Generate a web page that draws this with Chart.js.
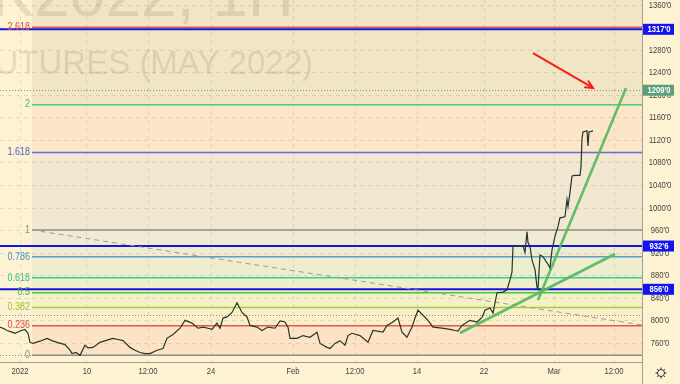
<!DOCTYPE html>
<html><head><meta charset="utf-8">
<script src="https://cdn.jsdelivr.net/npm/chart.js@4"></script>
<style>html,body{margin:0;padding:0;background:#fdf3d3}canvas{display:block}</style>
</head><body>
<canvas id="c" width="680" height="384"></canvas>
<script>
// ---- data (x = bar index on the time axis, y = price) ----
const barIndex = [0,4,7,12,15,20,25,28,30,33,40,47,52,57,65,70,72,76,80,85,88,93,100,107,113,118,123,130,135,140,145,150,157,163,167,173,180,185,192,198,203,208,212,217,220,223,227,232,237,242,247,250,257,262,268,275,280,285,288,290,297,303,310,317,320,327,330,335,340,345,348,352,360,368,373,383,387,393,398,402,407,412,415,418,423,428,433,442,450,455,458,462,470,477,482,485,490,493,497,503,507,510,512,513,518,523,525,527,528,530,532,535,537,538,540,543,547,550,552,555,558,560,562,565,567,568,570,572,575,580,581,582,583,587,588,589,593];
const closePrice = [789,786,783,780,778,782,785,778,762,760,764,769,765,762,758,748,742,744,739,757,752,753,762,766,769,767,765,753,748,744,742,742,748,751,769,776,787,801,796,787,789,787,785,796,787,805,807,815,832,815,807,792,789,783,789,787,800,798,789,769,769,774,771,780,760,753,751,760,765,757,774,778,774,762,783,780,792,798,805,780,771,789,805,819,810,801,789,787,785,783,782,792,801,798,806,819,823,814,850,851,855,873,887,932,933,933,921,958,939,932,908,891,860,856,917,914,903,894,926,950,967,983,983,985,1015,1003,1028,1057,1058,1058,1073,1123,1135,1137,1110,1135,1137];

const timeTickBars = [20,87,148,211,293,355,417,484,554,614];
const timeTickLabels = ['2022','10','12:00','24','Feb','12:00','14','22','Mar','12:00'];
const priceTicks = [760,800,840,880,920,960,1000,1040,1080,1120,1160,1200,1240,1280,1320,1360];

const fibStartBar = 32;
const fibPrice0 = 739, fibPrice1 = 961.2;
const fibRatios = [0,0.236,0.382,0.5,0.618,0.786,1,1.618,2,2.618];
const fibLabels = ['0','0.236','0.382','0.5','0.618','0.786','1','1.618','2','2.618'];
const fibLineColors = ['#8c8c8c','#e2574c','#a9cc3e','#45c445','#3ccaa0','#5a9fcc','#8c8c8c','#6a6ad2','#4fc88c','#e2574c'];
const fibLabelColors = ['#8a8a8a','#e04848','#9bc232','#3cb83c','#2fbf92','#3d96cf','#8a8a8a','#5a5ac8','#3cc080','#e04848'];
const fibZoneFills = ['#fde3c4','#fbefc9','#f5f0c5','#eff0ca','#eeeecf','#efecd2','#f2e8d2','#fde5c8','#f0e6c5','#f0e6c5'];

const keyLevels = [1317, 932.75, 856];
const keyLevelLabels = ["1317'0", "932'6", "856'0"];
const markPrice = 1209, markLabel = "1209'0";
const dottedLevels = [1209, 810, 739];

const steepTrendBars = [538, 626], steepTrendPrices = [837, 1213];
const shallowTrendBars = [460, 615], shallowTrendPrices = [778.5, 918.6];
const fibTrendBars = [32, 642], fibTrendPrices = [961.2, 792.7];
const arrowBars = [533, 593], arrowPrices = [1275, 1213];

const watermarkLine1 = 'ZWK2022, 1H';
const watermarkLine2 = 'WHEAT FUTURES (MAY 2022)';

const pts = (xs, ys) => xs.map((x, i) => ({x, y: ys[i]}));
const fibPrice = r => fibPrice0 + r * (fibPrice1 - fibPrice0);

function sText(ctx, t, x, y, align, sx) {
  ctx.save(); ctx.translate(x, y); ctx.scale(sx, 1);
  ctx.textAlign = align; ctx.fillText(t, 0, 0); ctx.restore();
}

const deco = {
  id: 'deco',
  beforeDraw(chart) {
    const ctx = chart.ctx, a = chart.chartArea, xs = chart.scales.x, ys = chart.scales.y;
    ctx.save();
    ctx.fillStyle = '#fdf3d3'; ctx.fillRect(0, 0, chart.width, chart.height);
    const fx = xs.getPixelForValue(fibStartBar);
    for (let i = 0; i < fibRatios.length; i++) {
      const yb = ys.getPixelForValue(fibPrice(fibRatios[i]));
      const yt = i + 1 < fibRatios.length ? ys.getPixelForValue(fibPrice(fibRatios[i + 1])) : a.top;
      ctx.fillStyle = fibZoneFills[i];
      ctx.fillRect(fx, yt, a.right - fx, yb - yt);
    }
    ctx.beginPath(); ctx.rect(a.left, a.top, a.right - a.left, a.bottom - a.top); ctx.clip();
    ctx.fillStyle = 'rgba(120,105,70,0.17)';
    ctx.textBaseline = 'alphabetic'; ctx.textAlign = 'right';
    ctx.font = '64px "Liberation Sans", Arial, sans-serif';
    ctx.fillText(watermarkLine1, 294, 16);
    ctx.font = '33px "Liberation Sans", Arial, sans-serif';
    ctx.fillText(watermarkLine2, 313, 74);
    ctx.restore();
  },
  beforeDatasetsDraw(chart) {
    const ctx = chart.ctx, a = chart.chartArea, xs = chart.scales.x, ys = chart.scales.y;
    const fx = xs.getPixelForValue(fibStartBar);
    ctx.save();
    ctx.beginPath(); ctx.rect(a.left, a.top, a.right - a.left, a.bottom - a.top); ctx.clip();
    ctx.setLineDash([1, 2]); ctx.lineWidth = 1; ctx.strokeStyle = '#8f8a80';
    dottedLevels.forEach(p => {
      const y = Math.round(ys.getPixelForValue(p)) + 0.5;
      ctx.beginPath(); ctx.moveTo(a.left, y); ctx.lineTo(a.right, y); ctx.stroke();
    });
    ctx.setLineDash([]);
    ctx.lineWidth = 1.5;
    fibRatios.forEach((r, i) => {
      const y = ys.getPixelForValue(fibPrice(r));
      ctx.strokeStyle = fibLineColors[i];
      ctx.beginPath(); ctx.moveTo(fx, y); ctx.lineTo(a.right, y); ctx.stroke();
    });
    ctx.lineWidth = 2; ctx.strokeStyle = '#1414e0';
    keyLevels.forEach(p => {
      const y = ys.getPixelForValue(p);
      ctx.beginPath(); ctx.moveTo(a.left, y); ctx.lineTo(a.right, y); ctx.stroke();
    });
    ctx.restore();
  },
  afterDatasetsDraw(chart) {
    const ctx = chart.ctx, xs = chart.scales.x, ys = chart.scales.y;
    const x0 = xs.getPixelForValue(arrowBars[0]), y0 = ys.getPixelForValue(arrowPrices[0]);
    const x1 = xs.getPixelForValue(arrowBars[1]), y1 = ys.getPixelForValue(arrowPrices[1]);
    const ang = Math.atan2(y1 - y0, x1 - x0), L = 8;
    ctx.save(); ctx.strokeStyle = '#ff1a1a'; ctx.lineWidth = 2; ctx.lineCap = 'round';
    ctx.beginPath();
    ctx.moveTo(x1 - L * Math.cos(ang - 0.45), y1 - L * Math.sin(ang - 0.45));
    ctx.lineTo(x1, y1);
    ctx.lineTo(x1 - L * Math.cos(ang + 0.45), y1 - L * Math.sin(ang + 0.45));
    ctx.stroke(); ctx.restore();
  },
  afterDraw(chart) {
    const ctx = chart.ctx, a = chart.chartArea, xs = chart.scales.x, ys = chart.scales.y;
    ctx.save();
    ctx.strokeStyle = '#a39e90'; ctx.lineWidth = 1;
    ctx.beginPath(); ctx.moveTo(Math.round(a.right) + 0.5, 0); ctx.lineTo(Math.round(a.right) + 0.5, chart.height); ctx.stroke();
    ctx.beginPath(); ctx.moveTo(0, Math.round(a.bottom) + 0.5); ctx.lineTo(Math.round(a.right), Math.round(a.bottom) + 0.5); ctx.stroke();
    ctx.font = '9px "Liberation Sans", Arial, sans-serif'; ctx.textBaseline = 'middle';
    ctx.fillStyle = '#444444';
    priceTicks.forEach(p => sText(ctx, p + "'0", 660, ys.getPixelForValue(p), 'center', 0.85));
    timeTickBars.forEach((b, i) => sText(ctx, timeTickLabels[i], xs.getPixelForValue(b), 372, 'center', 0.85));
    const box = (p, label, color) => {
      const y = ys.getPixelForValue(p);
      ctx.fillStyle = color; ctx.fillRect(643, y - 5.5, 31, 11);
      ctx.fillStyle = '#ffffff'; ctx.font = 'bold 9px "Liberation Sans", Arial, sans-serif';
      sText(ctx, label, 659, y + 0.5, 'center', 0.85);
    };
    keyLevels.forEach((p, i) => box(p, keyLevelLabels[i], '#1414f0'));
    box(markPrice, markLabel, '#5e9e7c');
    ctx.font = '10px "Liberation Sans", Arial, sans-serif';
    fibRatios.forEach((r, i) => {
      ctx.fillStyle = fibLabelColors[i];
      sText(ctx, fibLabels[i], 30, ys.getPixelForValue(fibPrice(r)), 'right', 0.9);
    });
    const gx = 661, gy = 373;
    ctx.strokeStyle = '#333'; ctx.lineWidth = 1;
    ctx.beginPath(); ctx.arc(gx, gy, 3.5, 0, Math.PI * 2); ctx.stroke();
    for (let k = 0; k < 8; k++) {
      const t = k * Math.PI / 4;
      ctx.beginPath(); ctx.moveTo(gx + 3.5 * Math.cos(t), gy + 3.5 * Math.sin(t));
      ctx.lineTo(gx + 5.5 * Math.cos(t), gy + 5.5 * Math.sin(t)); ctx.stroke();
    }
    ctx.restore();
  }
};

new Chart(document.getElementById('c'), {
  type: 'line',
  data: {
    datasets: [
      { data: pts(barIndex, closePrice), borderColor: '#22382a', borderWidth: 1.2, pointRadius: 0, tension: 0 },
      { data: pts(steepTrendBars, steepTrendPrices), borderColor: 'rgba(86,184,96,0.92)', borderWidth: 2.6, pointRadius: 0 },
      { data: pts(shallowTrendBars, shallowTrendPrices), borderColor: 'rgba(86,184,96,0.92)', borderWidth: 2.6, pointRadius: 0 },
      { data: pts(fibTrendBars, fibTrendPrices), borderColor: '#9b9b98', borderWidth: 1, borderDash: [5, 4], pointRadius: 0 },
      { data: pts(arrowBars, arrowPrices), borderColor: '#ff1a1a', borderWidth: 2, pointRadius: 0 }
    ]
  },
  options: {
    responsive: false, animation: false, events: [],
    layout: { padding: 0 },
    plugins: { legend: { display: false }, tooltip: { enabled: false } },
    scales: {
      x: {
        type: 'linear', min: 0, max: 642, position: 'bottom',
        afterBuildTicks: s => { s.ticks = timeTickBars.map(v => ({ value: v })); },
        afterFit: s => { s.height = 22; },
        ticks: { display: false },
        grid: { color: 'rgba(120,120,120,0.2)', drawTicks: false, lineWidth: 1 },
        border: { display: false, dash: [4, 4] }
      },
      y: {
        type: 'linear', min: 727.1, max: 1369, position: 'right',
        afterBuildTicks: s => { s.ticks = priceTicks.map(v => ({ value: v })); },
        afterFit: s => { s.width = 38; },
        ticks: { display: false },
        grid: { color: 'rgba(120,120,120,0.2)', drawTicks: false, lineWidth: 1 },
        border: { display: false, dash: [4, 4] }
      }
    }
  },
  plugins: [deco]
});
</script>
</body></html>
